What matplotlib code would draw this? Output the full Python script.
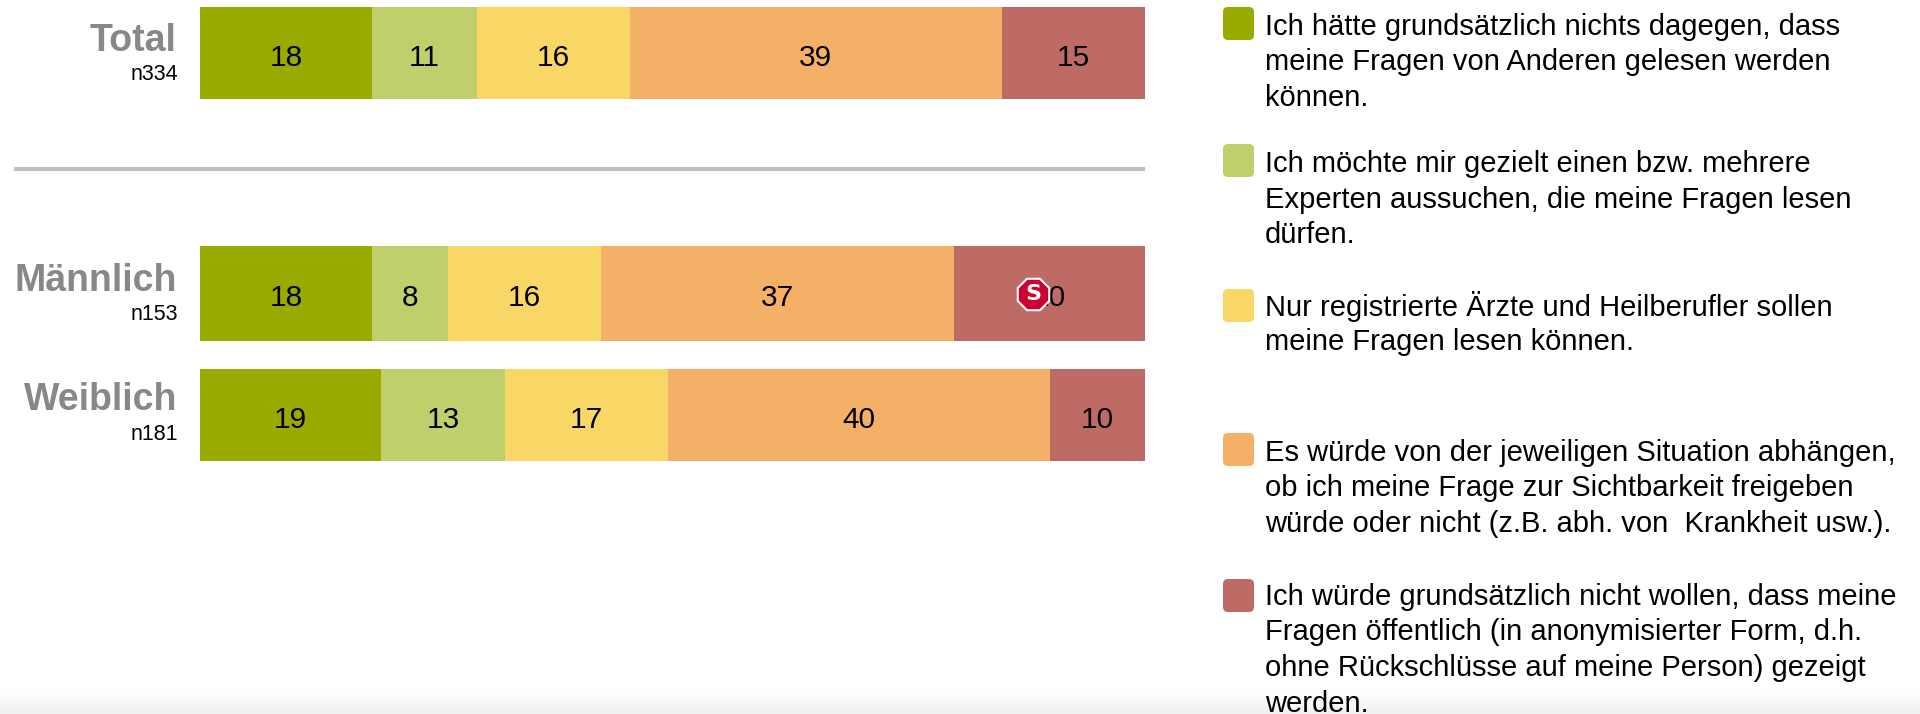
import matplotlib.pyplot as plt
import matplotlib.patches as patches
import numpy as np

plt.rcParams['font.family'] = ['Liberation Sans', 'DejaVu Sans']

groups = ['Total', 'Männlich', 'Weiblich']
counts = ['n334', 'n153', 'n181']
v1 = [18, 18, 19]
v2 = [11, 8, 13]
v3 = [16, 16, 17]
v4 = [39, 37, 40]
v5 = [15, 20, 10]
series = [v1, v2, v3, v4, v5]
colors = ['#99AB00', '#C0CF6B', '#F9D766', '#F5B068', '#BE6B65']

legend_lines = [
    ['Ich hätte grundsätzlich nichts dagegen, dass', 'meine Fragen von Anderen gelesen werden', 'können.'],
    ['Ich möchte mir gezielt einen bzw. mehrere', 'Experten aussuchen, die meine Fragen lesen', 'dürfen.'],
    ['Nur registrierte Ärzte und Heilberufler sollen', 'meine Fragen lesen können.'],
    ['Es würde von der jeweiligen Situation abhängen,', 'ob ich meine Frage zur Sichtbarkeit freigeben', 'würde oder nicht (z.B. abh. von  Krankheit usw.).'],
    ['Ich würde grundsätzlich nicht wollen, dass meine', 'Fragen öffentlich (in anonymisierter Form, d.h.', 'ohne Rückschlüsse auf meine Person) gezeigt', 'werden.'],
]

W, H = 1920, 714
fig = plt.figure(figsize=(W / 100, H / 100), dpi=100)

# overlay in pixel coordinates for labels and legend
bg = fig.add_axes([0, 0, 1, 1])
bg.set_xlim(0, W)
bg.set_ylim(H, 0)
bg.axis('off')

# faint grey fade at the bottom edge
fade = np.linspace(1, 0.94, 30).reshape(-1, 1)
bg.imshow(fade, cmap='gray', vmin=0, vmax=1, extent=[0, W, H, 692], aspect='auto', zorder=0)
bg.set_xlim(0, W)
bg.set_ylim(H, 0)

# bars, y axis set up so one unit is one pixel
ax = fig.add_axes([200 / W, 0, 945 / W, 1])
ax.set_xlim(0, 99)
ax.set_ylim(H, 0)
ax.axis('off')
ax.patch.set_alpha(0)

bar_top = [7, 246, 369]
bar_h = [92, 95, 92]
y_pos = [t + h / 2 for t, h in zip(bar_top, bar_h)]

left = np.zeros(3)
for vals, c in zip(series, colors):
    ax.barh(y_pos, vals, height=bar_h, left=left, color=c, linewidth=0)
    for y, l, v in zip(y_pos, left, vals):
        ax.text(l + v / 2, y + 4.5, str(v), ha='center', va='center', fontsize=21.5, color='black')
    left = left + np.array(vals)

# separator
bg.plot([14, 1145], [169, 169], color='#C3BEBE', lw=3, solid_capstyle='butt')

name_y = [41, 281, 400]
count_y = [74, 315, 435]
for g, n, ny, cy in zip(groups, counts, name_y, count_y):
    bg.text(177, ny, g, ha='right', va='center', fontsize=27, fontweight='bold', color='#888888')
    bg.text(178, cy, n, ha='right', va='center', fontsize=15.5, color='black')

# legend
box_top = [7, 144, 289, 433, 579]
line_y = [27, 164, 307, 453, 597]
for c, lines, bt, ly in zip(colors, legend_lines, box_top, line_y):
    bg.add_patch(patches.FancyBboxPatch((1226, bt + 3), 25, 27, boxstyle='round,pad=3,rounding_size=5',
                                        facecolor=c, edgecolor='none'))
    for i, line in enumerate(lines):
        bg.text(1265, ly + i * 35.5, line, ha='left', va='center', fontsize=21, color='black')

# stop badge over the label of the Männlich bar
top = fig.add_axes([0, 0, 1, 1])
top.set_xlim(0, W)
top.set_ylim(H, 0)
top.axis('off')
top.patch.set_alpha(0)
top.scatter([1033], [294], marker='8', s=600, color='#CC0033', edgecolors='white', linewidths=1.5)
top.text(1033, 294, 'S', ha='center', va='center', fontsize=16, fontweight='bold',
         family='DejaVu Sans', color='white')

fig.savefig('out.png', dpi=100)
